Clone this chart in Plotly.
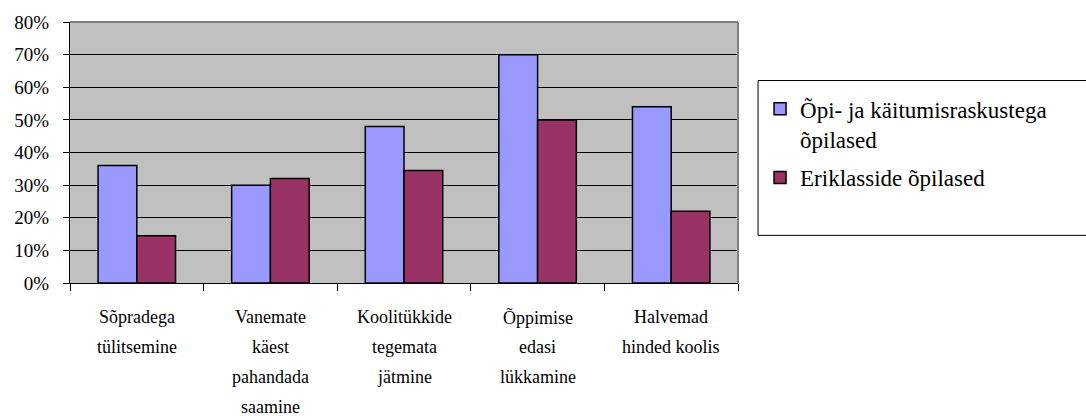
import plotly.graph_objects as go

# Categories (line breaks as shown under the axis)
categories = [
    "Sõpradega<br>tülitsemine",
    "Vanemate<br>käest<br>pahandada<br>saamine",
    "Koolitükkide<br>tegemata<br>jätmine",
    "Õppimise<br>edasi<br>lükkamine",
    "Halvemad<br>hinded koolis",
]
series_names = ["Õpi- ja käitumisraskustega<br>õpilased", "Eriklasside õpilased"]
learning_difficulties = [0.36, 0.30, 0.48, 0.70, 0.54]
special_classes = [0.145, 0.32, 0.345, 0.50, 0.22]
y_ticks = [0, 0.1, 0.2, 0.3, 0.4, 0.5, 0.6, 0.7, 0.8]

FONT = "Liberation Serif, Times New Roman, serif"

fig = go.Figure()
fig.add_trace(go.Bar(
    x=categories, y=learning_difficulties, name=series_names[0],
    marker=dict(color="#9999FF", line=dict(color="black", width=1.5)),
    legendgroup="a",
))
fig.add_trace(go.Bar(
    x=categories, y=special_classes, name=series_names[1],
    marker=dict(color="#993366", line=dict(color="black", width=1.5)),
    legendgroup="b",
))

# Multi-line category labels with wide line spacing
annotations = []
for cat in categories:
    for i, line in enumerate(cat.split("<br>")):
        annotations.append(dict(
            x=cat, xref="x", y=0, yref="paper",
            text=line, showarrow=False,
            xanchor="center", yanchor="middle",
            yshift=-(34 + i * 30),
            font=dict(family=FONT, size=18, color="black"),
        ))

fig.update_layout(
    width=1086, height=416,
    margin=dict(l=70, r=348, t=20, b=133),
    paper_bgcolor="white",
    plot_bgcolor="#C0C0C0",
    barmode="group", bargap=0.42, bargroupgap=0,
    font=dict(family=FONT, size=18, color="black"),
    showlegend=True,
    legend=dict(
        x=1.033, y=0.75, xanchor="left", yanchor="top",
        font=dict(family=FONT, size=23, color="black"),
        bgcolor="rgba(0,0,0,0)", borderwidth=0,
        valign="top", tracegroupgap=6,
    ),
    annotations=annotations,
    shapes=[dict(
        type="rect", xref="paper", yref="paper",
        x0=1.03, x1=1.6, y0=0.1825, y1=0.7757,
        line=dict(color="black", width=1), fillcolor="rgba(0,0,0,0)",
    )],
)

fig.update_xaxes(
    showticklabels=False, showgrid=False,
    tickson="boundaries", ticks="outside", ticklen=7, tickcolor="black",
    showline=True, linecolor="black", linewidth=1,
)
fig.update_yaxes(
    range=[0, 0.8], tickvals=y_ticks, tickformat=".0%",
    ticks="outside", ticklen=6, tickcolor="black",
    ticklabelstandoff=10,
    tickfont=dict(family=FONT, size=19, color="black"),
    showgrid=True, gridcolor="black", gridwidth=1,
    showline=True, linecolor="black", linewidth=1,
    zeroline=False,
)
# Gray frame on the top and right of the plot area
fig.add_shape(type="line", xref="paper", yref="paper", x0=0, x1=1, y0=1, y1=1,
              line=dict(color="#808080", width=2))
fig.add_shape(type="line", xref="paper", yref="paper", x0=1, x1=1, y0=0, y1=1,
              line=dict(color="#808080", width=2))

fig.write_html("out.html")
